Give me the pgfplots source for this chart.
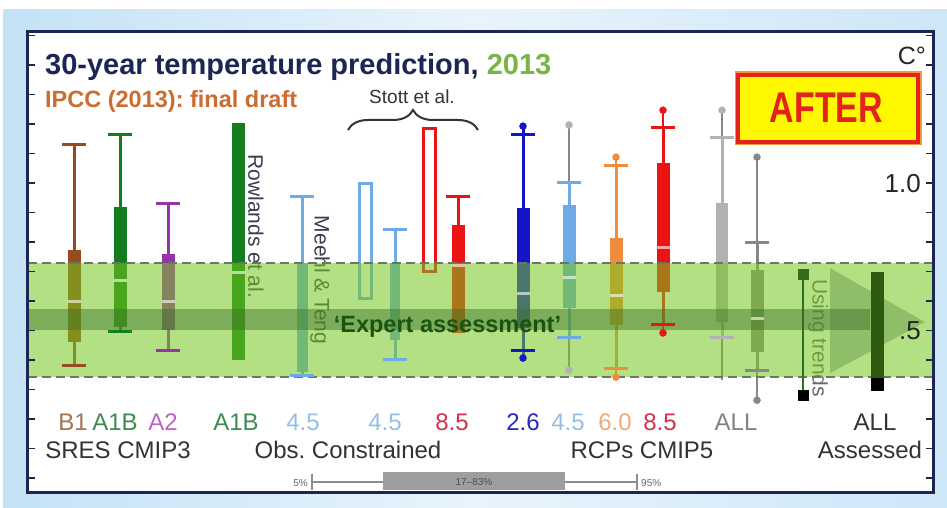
\documentclass[border=0pt]{standalone}
\usepackage{pgfplots}
\pgfplotsset{compat=1.18}
\usepackage{fontspec}
\setmainfont{Liberation Sans}
\usetikzlibrary{decorations.pathreplacing}
\frenchspacing
\definecolor{navy}{RGB}{28,38,85}
\definecolor{yr}{RGB}{120,180,70}
\definecolor{sub}{RGB}{205,108,48}
\definecolor{cB1}{RGB}{150,75,35}
\definecolor{cA1B}{RGB}{20,125,30}
\definecolor{cA2}{RGB}{150,50,170}
\definecolor{cLB}{RGB}{110,170,230}
\definecolor{cRed}{RGB}{235,20,20}
\definecolor{cBlue}{RGB}{20,20,200}
\definecolor{cOr}{RGB}{240,140,60}
\definecolor{cG1}{RGB}{178,178,178}
\definecolor{cG2}{RGB}{135,135,135}
\definecolor{band}{RGB}{119,199,31}
\definecolor{shaft}{RGB}{60,110,40}
\definecolor{dgreen}{RGB}{45,90,15}
\definecolor{tgreen}{RGB}{50,110,30}
\definecolor{dashc}{RGB}{105,120,95}
\definecolor{expg}{RGB}{25,85,15}
\definecolor{txtc}{RGB}{60,60,80}
\definecolor{bgL}{RGB}{196,226,246}
\definecolor{bgM}{RGB}{232,244,252}
\definecolor{bgR}{RGB}{205,230,248}
\definecolor{lB1}{RGB}{165,115,80}
\definecolor{lA1B}{RGB}{60,140,80}
\definecolor{lA2}{RGB}{190,100,200}
\definecolor{lLB}{RGB}{150,190,230}
\definecolor{lRed}{RGB}{210,50,70}
\definecolor{lBlue}{RGB}{40,40,190}
\definecolor{lOr}{RGB}{240,170,120}
\definecolor{lG}{RGB}{130,130,130}
\definecolor{afterred}{RGB}{225,35,25}
\definecolor{afterglow}{RGB}{245,150,60}
\newcommand{\fs}[1]{\fontsize{#1}{#1}\selectfont}
\pgfplotsset{
  wsk/.style={line width=3pt},
  bxx/.style={line width=13pt},
  capm/.style={only marks, mark=-, mark size=12pt, mark options={line width=3pt}},
  dotm/.style={only marks, mark=*, mark size=3.5pt},
}
\begin{document}
\begin{tikzpicture}
\begin{scope}[x=1pt,y=1pt]
\path[use as bounding box] (0,0) rectangle (947,507);
\fill[white] (0,0) rectangle (947,507);
\shade[left color=bgL, right color=bgR, middle color=bgM] (3,0) rectangle (947,497);
\end{scope}
\begin{axis}[
  at={(28pt,15pt)}, anchor=south west,
  width=905pt, height=460pt, scale only axis,
  xmin=28, xmax=933, ymin=-0.047, ymax=1.512,
  axis background/.style={fill=white},
  axis line style={draw=navy, line width=3pt},
  axis on top,
  xtick=\empty,
  ytick={0.5,1.0}, yticklabels={.5,1.0},
  minor ytick={0,0.1,0.2,0.3,0.4,0.6,0.7,0.8,0.9,1.1,1.2,1.3,1.4,1.5},
  tick align=inside,
  major tick length=7pt, minor tick length=7pt,
  tick style={draw=navy, line width=1.5pt},
  yticklabel pos=right,
  yticklabel style={anchor=east, inner sep=0pt, xshift=-12pt, font=\fs{26}, text=black!85},
  /pgf/number format/assume math mode=true,
  clip=false,
]
% SRES CMIP3
\addplot[cB1, wsk] coordinates {(74,0.383)(74,1.132)};
\addplot[cB1, bxx] coordinates {(74,0.461)(74,0.773)};
\addplot[cB1, capm] coordinates {(74,0.383)(74,1.132)};
\addplot[cA1B, wsk] coordinates {(120,0.498)(120,1.166)};
\addplot[cA1B, bxx] coordinates {(120,0.512)(120,0.919)};
\addplot[cA1B, capm] coordinates {(120,0.498)(120,1.166)};
\addplot[cA2, wsk] coordinates {(168,0.431)(168,0.932)};
\addplot[cA2, bxx] coordinates {(168,0.502)(168,0.759)};
\addplot[cA2, capm] coordinates {(168,0.431)(168,0.932)};
% Rowlands
\addplot[cA1B, bxx] coordinates {(238,0.400)(238,1.203)};
% Meehl & Teng
\addplot[cLB, wsk] coordinates {(302,0.349)(302,0.953)};
\addplot[cLB, line width=11pt] coordinates {(302,0.359)(302,0.729)};
\addplot[cLB, capm] coordinates {(302,0.349)(302,0.953)};
% Stott et al.
\addplot[cLB, line width=3pt, line cap=rect] coordinates {(359.5,0.608)(371.5,0.608)(371.5,0.998)(359.5,0.998)(359.5,0.608)};
\addplot[cLB, wsk] coordinates {(395,0.403)(395,0.841)};
\addplot[cLB, line width=10pt] coordinates {(395,0.468)(395,0.729)};
\addplot[cLB, capm] coordinates {(395,0.403)(395,0.841)};
\addplot[cRed, line width=3pt, line cap=rect] coordinates {(423.5,0.700)(435.5,0.700)(435.5,1.185)(423.5,1.185)(423.5,0.700)};
\addplot[cRed, wsk] coordinates {(458,0.492)(458,0.953)};
\addplot[cRed, bxx] coordinates {(458,0.492)(458,0.858)};
\addplot[cRed, capm] coordinates {(458,0.953)};
% RCP 2.6
\addplot[cBlue, wsk] coordinates {(523,0.407)(523,1.193)};
\addplot[cBlue, bxx] coordinates {(523,0.508)(523,0.915)};
\addplot[cBlue, capm] coordinates {(523,0.434)(523,1.166)};
\addplot[cBlue, dotm] coordinates {(523,0.407)(523,1.193)};
% RCP 4.5
\addplot[cG2, line width=1.5pt] coordinates {(569,0.366)(569,1.197)};
\addplot[cLB, wsk] coordinates {(569,0.475)(569,1.003)};
\addplot[cLB, bxx] coordinates {(569,0.576)(569,0.925)};
\addplot[cLB, capm] coordinates {(569,0.475)(569,1.003)};
\addplot[cG1, dotm] coordinates {(569,0.366)(569,1.197)};
% RCP 6.0
\addplot[cOr, line width=2pt] coordinates {(616,0.342)(616,1.088)};
\addplot[cOr, wsk] coordinates {(616,0.373)(616,1.058)};
\addplot[cOr, bxx] coordinates {(616,0.519)(616,0.814)};
\addplot[cOr, capm] coordinates {(616,0.373)(616,1.058)};
\addplot[cOr, dotm] coordinates {(616,0.342)(616,1.088)};
% RCP 8.5
\addplot[cRed, line width=2pt] coordinates {(663,0.492)(663,1.247)};
\addplot[cRed, wsk] coordinates {(663,0.519)(663,1.190)};
\addplot[cRed, bxx] coordinates {(663,0.631)(663,1.068)};
\addplot[cRed, capm] coordinates {(663,0.519)(663,1.190)};
\addplot[cRed, dotm] coordinates {(663,0.492)(663,1.247)};
% ALL (1)
\addplot[cG2, line width=1.5pt] coordinates {(722,0.332)(722,1.247)};
\addplot[cG1, wsk] coordinates {(722,0.478)(722,1.153)};
\addplot[cG1, line width=12pt] coordinates {(722,0.529)(722,0.932)};
\addplot[cG1, capm] coordinates {(722,0.478)(722,1.153)};
\addplot[cG1, dotm] coordinates {(722,1.247)};
% ALL (2)
\addplot[cG2, line width=1.5pt] coordinates {(757,0.264)(757,1.088)};
\addplot[cG2, wsk] coordinates {(757,0.366)(757,0.797)};
\addplot[cG2, bxx] coordinates {(757,0.427)(757,0.705)};
\addplot[cG2, capm] coordinates {(757,0.366)(757,0.797)};
\addplot[cG2, dotm] coordinates {(757,0.264)(757,1.088)};
% medians
\addplot[white, opacity=0.6, only marks, mark=-, mark size=6.5pt, mark options={line width=3pt}] coordinates {(74,0.597)(120,0.671)(168,0.597)(238,0.698)(458,0.722)(523,0.627)(569,0.681)(616,0.620)(663,0.783)(757,0.542)};
% rotated labels
\node[rotate=-90, font=\fs{21}, text=txtc] at (axis cs:256,0.854) {Rowlands et al.};
\node[rotate=-90, font=\fs{21}, text=txtc] at (axis cs:320,0.671) {Meehl \& Teng};
\node[rotate=-90, font=\fs{21}, text=black!60] at (axis cs:818,0.475) {Using trends};
% assessed band
\addplot[draw=none, fill=band, fill opacity=0.55] coordinates {(28,0.342)(933,0.342)(933,0.729)(28,0.729)};
\addplot[draw=none, fill=shaft, fill opacity=0.45] coordinates {(28,0.502)(870,0.502)(870,0.573)(28,0.573)};
\addplot[draw=none, fill=shaft, fill opacity=0.3] coordinates {(830,0.712)(925,0.529)(830,0.356)};
\addplot[dashc, line width=2pt, dash pattern=on 9pt off 5pt] coordinates {(28,0.729)(933,0.729)};
\addplot[dashc, line width=2pt, dash pattern=on 9pt off 5pt] coordinates {(28,0.342)(933,0.342)};
% using trends & assessed
\addplot[tgreen, line width=1.5pt] coordinates {(803,0.281)(803,0.692)};
\addplot[tgreen, only marks, mark=square*, mark size=5pt] coordinates {(803,0.692)};
\addplot[black, only marks, mark=square*, mark size=5pt] coordinates {(803,0.281)};
\addplot[dgreen, bxx] coordinates {(877,0.325)(877,0.698)};
\addplot[black, only marks, mark=square*, mark size=6pt] coordinates {(877,0.319)};
\node[anchor=base, font=\fs{23.5}\bfseries, text=expg, inner sep=0pt] at (axis cs:447.5,0.495) {‘Expert assessment’};
\end{axis}
\begin{scope}[x=1pt,y=1pt]
\node[anchor=base west, inner sep=0pt, font=\fs{29}\bfseries, text=navy] at (45,432) {30-year temperature prediction, \textcolor{yr}{2013}};
\node[anchor=base west, inner sep=0pt, font=\fs{23.5}\bfseries, text=sub] at (45,399) {IPCC (2013): final draft};
\node[anchor=base, inner sep=0pt, font=\fs{19}, text=black!80] at (412,403) {Stott et al.};
\draw[black!80, line width=2pt, decorate, decoration={brace, amplitude=20pt}] (348,377) -- (478,377);
\node[anchor=base east, inner sep=0pt, font=\fs{25}, text=black!85] at (926,442) {C°};
% AFTER box
\draw[afterglow, line width=7pt] (738,365) rectangle (918,432);
\draw[afterred, line width=3.5pt, fill={rgb,255:red,255;green,248;blue,0}] (738,365) rectangle (918,432);
\node[anchor=base, inner sep=0pt, text=afterred] at (826.5,384) {\scalebox{0.79}[1]{\fs{43}\bfseries AFTER}};
% category labels
\begin{scope}[every node/.style={anchor=base, inner sep=0pt, font=\fs{24}}]
\node[text=lB1] at (73,77) {B1};
\node[text=lA1B] at (115,77) {A1B};
\node[text=lA2] at (163,77) {A2};
\node[text=lA1B] at (236,77) {A1B};
\node[text=lLB] at (303,77) {4.5};
\node[text=lLB] at (385,77) {4.5};
\node[text=lRed] at (452,77) {8.5};
\node[text=lBlue] at (523,77) {2.6};
\node[text=lLB] at (568,77) {4.5};
\node[text=lOr] at (615,77) {6.0};
\node[text=lRed] at (660,77) {8.5};
\node[text=lG] at (736,77) {ALL};
\node[text=black!80] at (875,77) {ALL};
\node[text=black!80] at (118,49) {SRES CMIP3};
\node[text=black!80] at (348,49) {Obs. Constrained};
\node[text=black!80] at (642,49) {RCPs CMIP5};
\node[text=black!80] at (870,49) {Assessed};
\end{scope}
% percentile key
\fill[black!38] (383,17) rectangle (565,35);
\draw[black!45, line width=1.5pt] (312,25) -- (383,25);
\draw[black!45, line width=1.5pt] (565,25) -- (637,25);
\draw[black!45, line width=1.2pt] (312,17) -- (312,33);
\draw[black!45, line width=1.2pt] (637,17) -- (637,33);
\node[anchor=base east, inner sep=0pt, font=\fs{10}, text=black!60] at (308,21) {5\%};
\node[anchor=base, inner sep=0pt, font=\fs{10}, text=black!70] at (474,22) {17--83\%};
\node[anchor=base west, inner sep=0pt, font=\fs{10}, text=black!60] at (641,21) {95\%};
\end{scope}
\end{tikzpicture}
\end{document}
